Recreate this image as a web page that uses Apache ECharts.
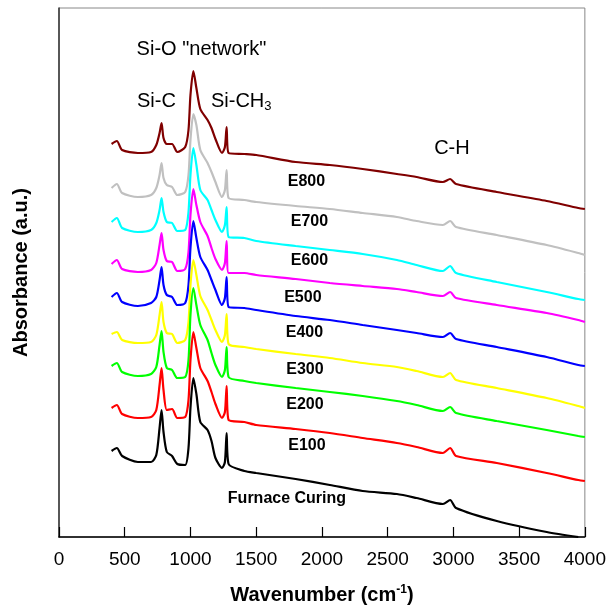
<!DOCTYPE html>
<html>
<head>
<meta charset="utf-8">
<script src="https://cdn.jsdelivr.net/npm/echarts@6/dist/echarts.min.js"></script>
<style>
  html, body { margin: 0; padding: 0; background: #fff; }
  #chart { width: 609px; height: 612px; }
</style>
</head>
<body>
<div id="chart"></div>
<script>
  // wavenumber (cm-1), shared by all spectra
  var wavenumber = [400, 440, 480, 600, 700, 740, 765, 780, 795, 820, 860, 900, 960, 985, 1000, 1022, 1045, 1075, 1130, 1160, 1190, 1240, 1262, 1275, 1290, 1410, 1500, 1800, 2060, 2310, 2570, 2720, 2920, 2975, 3020, 3330, 3710, 3950, 4000]

  // absorbance (a.u., curves stacked with offsets as in the figure)
  var e800 = [393, 396, 387, 384, 385, 392, 404, 414, 399, 393, 393, 385, 390, 407, 442, 466, 449, 428, 417, 409, 398, 384, 390, 410, 384, 383, 382, 375, 372, 368, 363, 360, 355, 358, 353, 345, 336, 329, 328]
  var e700 = [349, 353, 344, 340, 342, 349, 362, 374, 359, 352, 350, 342, 345, 362, 397, 423, 412, 387, 374, 365, 355, 340, 347, 367, 339, 337, 335, 331, 328, 324, 320, 316, 312, 316, 310, 302, 292, 284, 282]
  var e600 = [315, 319, 309, 305, 307, 314, 327, 339, 325, 315, 314, 306, 307, 325, 362, 389, 372, 347, 337, 327, 317, 305, 312, 330, 300, 299, 296, 291, 287, 283, 277, 272, 266, 271, 264, 255, 245, 238, 237]
  var e500 = [273, 277, 268, 265, 267, 274, 292, 304, 287, 276, 275, 266, 268, 285, 322, 348, 332, 315, 301, 289, 278, 267, 274, 296, 264, 264, 262, 258, 254, 251, 248, 245, 241, 245, 239, 232, 224, 217, 215]
  var e400 = [240, 244, 235, 231, 234, 240, 257, 270, 252, 242, 240, 232, 234, 252, 289, 316, 299, 280, 267, 257, 247, 232, 239, 260, 230, 229, 227, 221, 217, 212, 207, 204, 200, 204, 198, 190, 180, 172, 171]
  var e300 = [203, 205, 197, 194, 195, 202, 222, 235, 215, 204, 203, 194, 197, 215, 252, 277, 262, 241, 227, 217, 207, 195, 202, 223, 193, 190, 188, 183, 179, 174, 170, 166, 160, 164, 157, 149, 139, 131, 129]
  var e200 = [171, 174, 165, 161, 163, 170, 192, 206, 185, 169, 167, 159, 160, 177, 222, 249, 232, 212, 197, 184, 172, 160, 167, 190, 160, 156, 154, 149, 145, 141, 136, 132, 126, 130, 124, 116, 107, 101, 100]
  var e100 = [129, 132, 123, 119, 120, 127, 152, 169, 147, 127, 128, 119, 120, 137, 177, 205, 189, 169, 156, 145, 133, 119, 125, 151, 117, 115, 112, 108, 104, 99, 94, 90, 84, 89, 81, 74, 64, 57, 56]
  var furnace = [86, 89, 81, 75, 75, 82, 109, 127, 105, 85, 81, 73, 72, 89, 129, 159, 143, 115, 107, 96, 79, 69, 75, 104, 73, 66, 64, 58, 52, 46, 43, 39, 33, 37, 29, 16, 5, 0, null]

  var names = ['E800', 'E700', 'E600', 'E500', 'E400', 'E300', 'E200', 'E100', 'Furnace Curing']
  var spectra = [e800, e700, e600, e500, e400, e300, e200, e100, furnace]
  var colors = ['#800000', '#c0c0c0', '#00ffff', '#ff00ff', '#0000ff', '#ffff00', '#00ff00', '#ff0000', '#000000']

  // label anchors [wavenumber, absorbance]
  var labelPos = [[1882, 355], [1905, 315], [1905, 276], [1855, 239], [1867, 204], [1871, 167], [1871, 132], [1886, 91], [1734, 38]]

  var font = 'Liberation Sans, Arial, sans-serif'
  var myChart = echarts.init(document.getElementById('chart'))

  var series = spectra.map(function (vals, i) {
    return {
      name: names[i],
      type: 'line',
      data: wavenumber.map(function (w, j) { return [w, vals[j]] }),
      showSymbol: false,
      smooth: 0.25,
      connectNulls: false,
      lineStyle: { color: colors[i], width: 2.2 },
      itemStyle: { color: colors[i] },
      animation: false,
    }
  })

  var option = {
    backgroundColor: '#fff',
    animation: false,
    grid: {
      left: 59,
      right: 24,
      top: 8,
      bottom: 75,
      show: true,
      borderColor: '#888',
      borderWidth: 1,
    },
    xAxis: {
      type: 'value',
      min: 0,
      max: 4000,
      interval: 500,
      name: 'Wavenumber (cm{sup|-1})',
      nameLocation: 'middle',
      nameGap: 47,
      nameTextStyle: {
        fontFamily: font, fontSize: 20, fontWeight: 'bold', color: '#000',
        rich: { sup: { fontFamily: font, fontSize: 12, fontWeight: 'bold', color: '#000', padding: [0, 0, 10, 0] } },
      },
      axisLine: { lineStyle: { color: '#000', width: 1.5 } },
      axisTick: { inside: true, length: 10, lineStyle: { color: '#000', width: 1.2 } },
      axisLabel: {
        fontFamily: font, fontSize: 19, color: '#000', margin: 13,
        formatter: function (v) { return String(v) },
      },
      splitLine: { show: false },
    },
    yAxis: {
      type: 'value',
      min: 0,
      max: 529,
      name: 'Absorbance (a.u.)',
      nameLocation: 'middle',
      nameGap: 28,
      nameTextStyle: { fontFamily: font, fontSize: 20, fontWeight: 'bold', color: '#000' },
      axisLine: { show: true, lineStyle: { color: '#333', width: 1.5 } },
      axisTick: { show: false },
      axisLabel: { show: false },
      splitLine: { show: false },
    },
    series: series,
  }
  myChart.setOption(option)

  // annotations placed in data coordinates
  function at (w, v) { return myChart.convertToPixel({ gridIndex: 0 }, [w, v]) }
  var graphics = []
  labelPos.forEach(function (p, i) {
    var px = at(p[0], p[1])
    graphics.push({
      type: 'text', x: px[0], y: px[1],
      style: { text: names[i], font: 'bold 16px ' + font, fill: '#000', align: 'center', verticalAlign: 'middle' },
    })
  })
  var peaks = [
    { text: 'Si-O "network"', pos: [1084, 488], align: 'center' },
    { text: 'Si-C', pos: [741, 436], align: 'center' },
    { text: 'C-H', pos: [2989, 389], align: 'center' },
  ]
  peaks.forEach(function (a) {
    var px = at(a.pos[0], a.pos[1])
    graphics.push({
      type: 'text', x: px[0], y: px[1],
      style: { text: a.text, font: '20px ' + font, fill: '#000', align: a.align, verticalAlign: 'middle' },
    })
  })
  var ch3 = at(1156, 436)
  graphics.push({
    type: 'text', x: ch3[0], y: ch3[1],
    style: {
      text: 'Si-CH{sub|3}', font: '20px ' + font, fill: '#000', align: 'left', verticalAlign: 'middle',
      rich: { sub: { fontSize: 13, fontFamily: font, fill: '#000', padding: [10, 0, 0, 0] } },
    },
  })
  myChart.setOption({ graphic: graphics })
</script>
</body>
</html>
